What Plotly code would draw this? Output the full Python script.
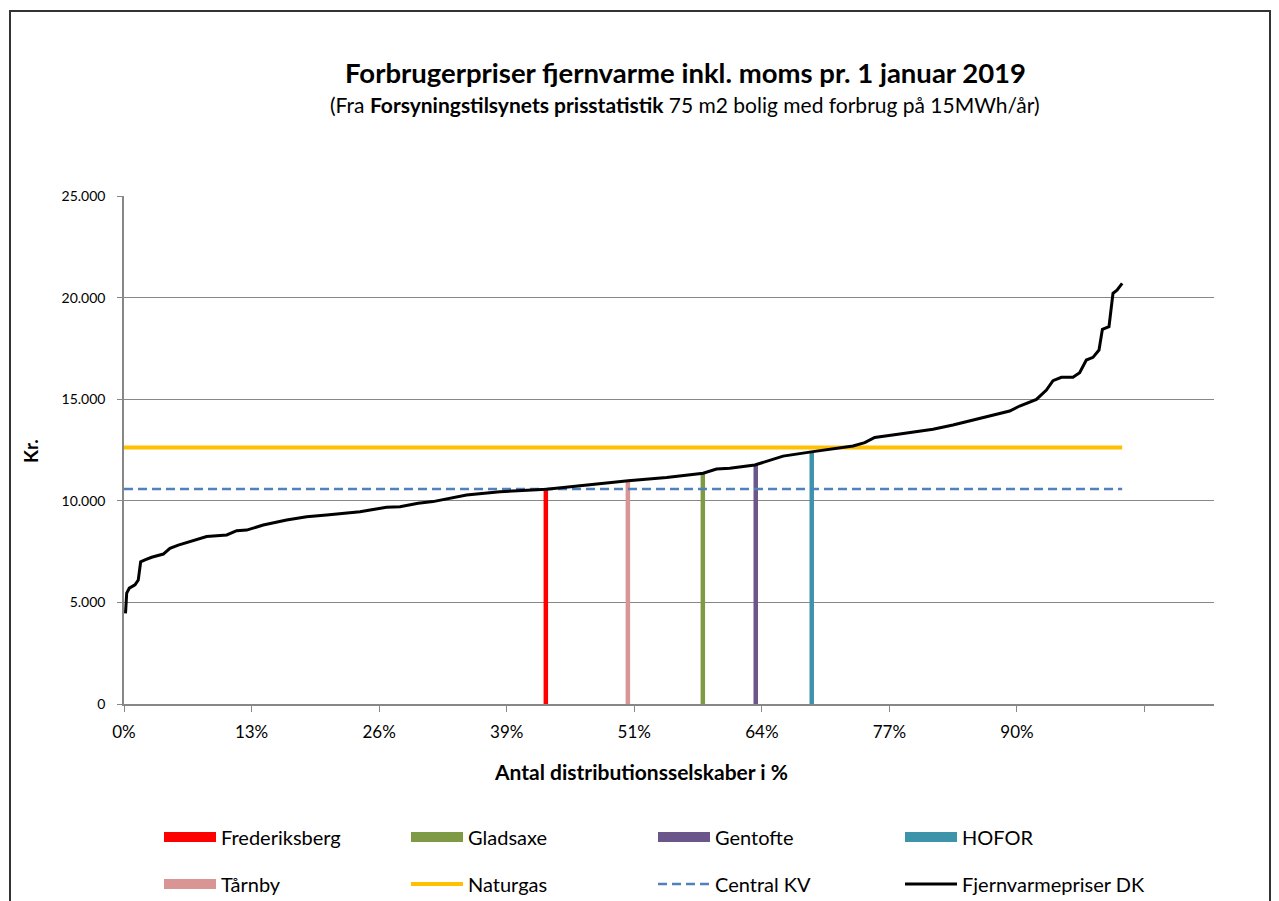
import plotly.graph_objects as go

# ---- data ----
curve_pct = [0.15, 0.27, 0.53, 1.1, 1.43, 1.67, 2.1, 2.77, 3.94, 4.6, 5.44, 6.94, 8.28, 10.29,
             11.29, 12.29, 13.95, 16.29, 18.3, 20.3, 23.64, 26.3, 27.64, 29.47, 30.95, 34.32,
             37.66, 42.33, 46.34, 50.5, 54.35, 58.02, 59.36, 60.69, 63.2, 66.03, 69.03, 73.04,
             74.21, 75.21, 77.72, 81.05, 83.05, 85.73, 88.73, 89.73, 91.41, 92.41, 93.07, 93.91,
             95.07, 95.74, 96.41, 97.08, 97.68, 98.02, 98.68, 99.08, 99.48, 100.0]
curve_kr = [4460, 5460, 5700, 5860, 6100, 7000, 7090, 7220, 7380, 7660, 7820, 8040, 8240, 8320,
            8530, 8560, 8810, 9055, 9220, 9300, 9465, 9680, 9710, 9875, 9960, 10285,
            10450, 10565, 10780, 10990, 11150, 11360, 11565, 11600, 11760, 12200, 12420, 12700,
            12860, 13120, 13290, 13520, 13730, 14060, 14420, 14665, 14990, 15450, 15910, 16080,
            16080, 16300, 16930, 17060, 17420, 18440, 18570, 20210, 20370, 20700]

company_names = ["Frederiksberg", "Tårnby", "Gladsaxe", "Gentofte", "HOFOR"]
company_pct = [42.26, 50.48, 57.99, 63.29, 68.9]
company_kr = [10580, 10980, 11370, 11760, 12400]
company_colors = ["#FF0000", "#D99594", "#7F9A45", "#6B568C", "#3D93AA"]

naturgas_kr = 12620
central_kv_kr = 10580
line_span = [0, 100]

x_tick_labels = ["0%", "13%", "26%", "39%", "51%", "64%", "77%", "90%", ""]
y_tick_vals = [0, 5000, 10000, 15000, 20000, 25000]
y_tick_labels = ["0", "5.000", "10.000", "15.000", "20.000", "25.000"]

FONT = "Lato"
GRID = "#878787"

fig = go.Figure()

# company columns
for name, p, v, c in zip(company_names, company_pct, company_kr, company_colors):
    fig.add_trace(go.Bar(x=[p], y=[v], width=0.45, marker=dict(color=c, line=dict(width=0)),
                         name=name, showlegend=False, hoverinfo="name+y"))

# legend proxies for the columns
row1 = ["Frederiksberg", "Gladsaxe", "Gentofte", "HOFOR"]
for name in row1:
    c = company_colors[company_names.index(name)]
    fig.add_trace(go.Scatter(x=[None], y=[None], mode="lines", name=name,
                             line=dict(color=c, width=12), legend="legend"))
fig.add_trace(go.Scatter(x=[None], y=[None], mode="lines", name="Tårnby",
                         line=dict(color=company_colors[1], width=12), legend="legend2"))

fig.add_trace(go.Scatter(x=line_span, y=[naturgas_kr, naturgas_kr], mode="lines", name="Naturgas",
                         line=dict(color="#FFC000", width=4), legend="legend2"))
fig.add_trace(go.Scatter(x=line_span, y=[central_kv_kr, central_kv_kr], mode="lines", name="Central KV",
                         line=dict(color="#4F81BD", width=2.5, dash="9px,5px"), legend="legend2"))
fig.add_trace(go.Scatter(x=curve_pct, y=curve_kr, mode="lines", name="Fjernvarmepriser DK",
                         line=dict(color="#000000", width=3), legend="legend2"))

# page body has an 8px margin: lay out in screen coordinates minus that offset
OFF = 8
L, T = 124 - OFF, 196 - OFF
PW, PH = 1090, 508
W, H = 1279 - OFF, 950
R = W - L - PW
B = H - T - PH


def px_x(sx):
    return (sx - OFF - L) / PW


def px_y(sy):
    return (T + PH - (sy - OFF)) / PH


tick_step = 12.78
legend_common = dict(orientation="h", xanchor="left", yanchor="middle",
                     itemwidth=52, entrywidth=180, entrywidthmode="pixels",
                     font=dict(family=FONT, size=20, color="#000"), bgcolor="rgba(0,0,0,0)",
                     itemclick=False, itemdoubleclick=False)
fig.update_layout(
    width=W, height=H,
    margin=dict(l=L, r=R, t=T, b=B, pad=0),
    paper_bgcolor="white", plot_bgcolor="white",
    barmode="overlay",
    font=dict(family=FONT, color="#000000", size=14),
    showlegend=True,
    legend=dict(x=px_x(159), y=px_y(837), **legend_common),
    legend2=dict(x=px_x(159), y=px_y(884), **legend_common),
    xaxis=dict(range=[0, 109.2], tickmode="array",
               tickvals=[k * tick_step for k in range(len(x_tick_labels))],
               ticktext=x_tick_labels, ticks="outside", ticklen=6, tickcolor=GRID,
               showline=True, linecolor=GRID, linewidth=1.5, showgrid=False, zeroline=False,
               tickfont=dict(family=FONT, size=17), ticklabelstandoff=6, fixedrange=True),
    yaxis=dict(range=[0, 25000], tickmode="array", tickvals=y_tick_vals, ticktext=y_tick_labels,
               ticks="outside", ticklen=5, tickcolor=GRID, showline=True, linecolor=GRID, linewidth=1.5,
               showgrid=True, gridcolor=GRID, gridwidth=1, zeroline=False,
               tickfont=dict(family=FONT, size=14), ticklabelstandoff=9, fixedrange=True),
    annotations=[
        dict(text="<b>Forbrugerpriser fjernvarme inkl. moms pr. 1 januar 2019</b>", xref="paper", yref="paper",
             x=px_x(685), y=px_y(72), xanchor="center", yanchor="middle", showarrow=False,
             font=dict(family=FONT, size=27.5)),
        dict(text="(Fra <b>Forsyningstilsynets prisstatistik</b> 75 m2 bolig med forbrug på 15MWh/år)",
             xref="paper", yref="paper", x=px_x(684), y=px_y(104), xanchor="center", yanchor="middle",
             showarrow=False, font=dict(family=FONT, size=21)),
        dict(text="<b>Antal distributionsselskaber i %</b>", xref="paper", yref="paper",
             x=px_x(641), y=px_y(771), xanchor="center", yanchor="middle", showarrow=False,
             font=dict(family=FONT, size=21)),
        dict(text="<b>Kr.</b>", xref="paper", yref="paper", x=px_x(30), y=px_y(451),
             xanchor="center", yanchor="middle", textangle=-90, showarrow=False,
             font=dict(family=FONT, size=19)),
    ],
    shapes=[
        dict(type="rect", xref="paper", yref="paper", x0=px_x(10), x1=px_x(1270),
             y0=px_y(945), y1=px_y(11), line=dict(color="#333333", width=2), fillcolor="rgba(0,0,0,0)",
             layer="below"),
    ],
)

fig.write_html("out.html")
